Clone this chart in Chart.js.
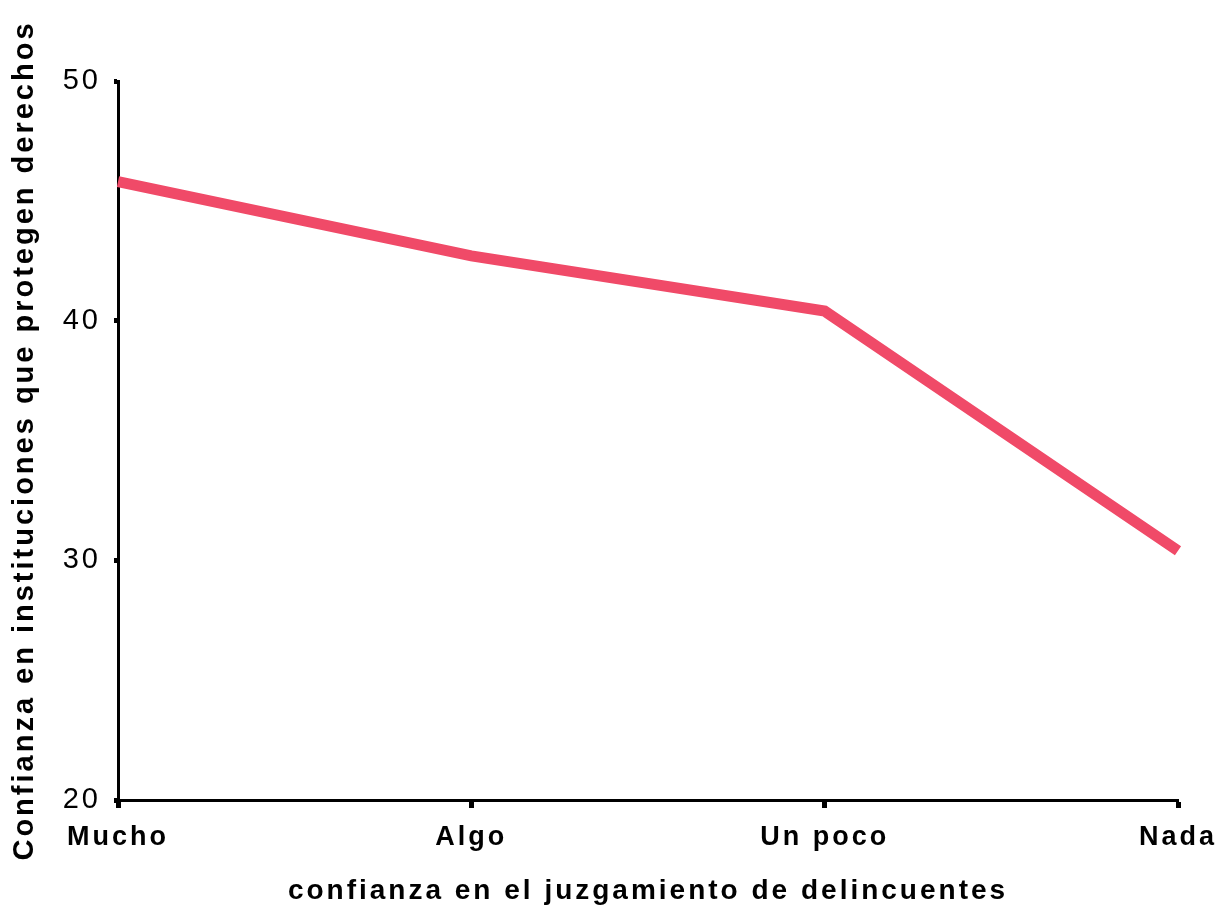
<!DOCTYPE html>
<html>
<head>
<meta charset="utf-8">
<script src="https://cdn.jsdelivr.net/npm/chart.js@4"></script>
<style>
  html, body { margin: 0; padding: 0; background: #fff; }
  #wrap { width: 1215px; height: 910px; position: relative; }
</style>
</head>
<body>
<div id="wrap"><canvas id="chart"></canvas></div>
<script>
const categories = ["Mucho", "Algo", "Un poco", "Nada"];
const values = [45.8, 42.7, 40.4, 30.4];
const yTicks = [20, 30, 40, 50];

const xTitle = "confianza en el juzgamiento de delincuentes";
const yTitle = "Confianza en instituciones que protegen derechos";

// letter-spaced text like the scanned original
const spacing = {
  id: "spacing",
  beforeDraw(chart) { chart.ctx.letterSpacing = "3px"; },
};

const ctx = document.getElementById("chart").getContext("2d");
new Chart(ctx, {
  type: "line",
  data: {
    labels: categories,
    datasets: [{
      data: values,
      borderColor: "#f04a68",
      borderWidth: 11,
      pointRadius: 0,
      tension: 0,
      fill: false,
    }],
  },
  options: {
    responsive: true,
    maintainAspectRatio: false,
    animation: false,
    layout: { padding: { top: 81, right: 37, bottom: 0, left: 0 } },
    plugins: { legend: { display: false }, tooltip: { enabled: false } },
    scales: {
      x: {
        offset: false,
        grid: { display: true, drawOnChartArea: false, drawTicks: true, tickLength: 8, tickWidth: 5, tickColor: "#000" },
        border: { display: true, color: "#000", width: 3 },
        ticks: {
          color: "#000",
          maxRotation: 0,
          autoSkip: false,
          padding: 13,
          font: { family: "Liberation Sans", size: 27, weight: "bold" },
        },
        title: {
          display: true,
          text: xTitle,
          color: "#000",
          padding: { top: 0, bottom: 2 },
          font: { family: "Liberation Sans", size: 28, weight: "bold" },
        },
        afterFit(scale) {
          scale.height = 110;
          scale.paddingLeft = 0;
          scale.paddingRight = 0;
        },
      },
      y: {
        min: 20,
        max: 50,
        afterBuildTicks(scale) { scale.ticks = yTicks.map(v => ({ value: v })); },
        grid: { display: true, drawOnChartArea: false, drawTicks: true, tickLength: 4, tickWidth: 5, tickColor: "#000" },
        border: { display: true, color: "#000", width: 3 },
        ticks: {
          color: "#000",
          padding: 13,
          font: { family: "Liberation Sans", size: 29 },
        },
        title: {
          display: true,
          text: yTitle,
          color: "#000",
          padding: { top: 8, bottom: 20 },
          font: { family: "Liberation Sans", size: 29, weight: "bold" },
        },
        afterFit(scale) { scale.width = 118; },
      },
    },
  },
  plugins: [spacing],
});
</script>
</body>
</html>
